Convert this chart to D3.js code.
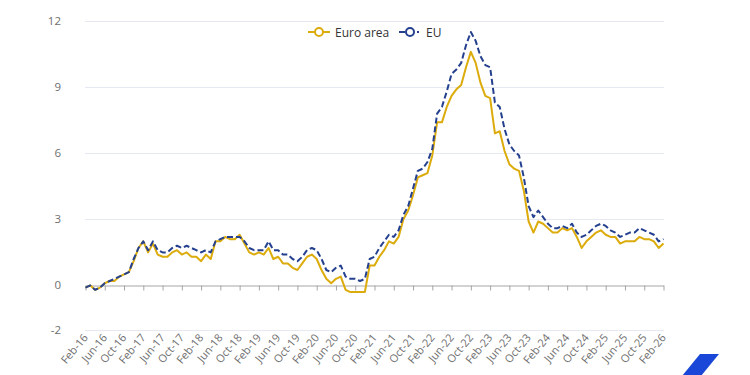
<!DOCTYPE html>
<html lang="en">
<head>
<meta charset="UTF-8">
<title>Euro area vs EU inflation</title>
<script src="https://cdn.jsdelivr.net/npm/d3@7"></script>
<style>
  body { margin: 0; background: #fff; }
  text { font-family: "Open Sans", "Noto Sans", sans-serif; }
</style>
</head>
<body>
<svg id="chart" width="750" height="375"></svg>
<script>
// annual rate of change, Feb-16 .. Feb-26
var euroArea = [
  -0.1, 0.0, -0.2, -0.1, 0.1, 0.2, 0.2, 0.4, 0.5, 0.6, 1.1,
  1.7, 2.0, 1.5, 1.9, 1.4, 1.3, 1.3, 1.5, 1.6, 1.4, 1.5, 1.3,
  1.3, 1.1, 1.4, 1.2, 2.0, 2.0, 2.2, 2.1, 2.1, 2.3, 1.9, 1.5,
  1.4, 1.5, 1.4, 1.7, 1.2, 1.3, 1.0, 1.0, 0.8, 0.7, 1.0, 1.3,
  1.4, 1.2, 0.7, 0.3, 0.1, 0.3, 0.4, -0.2, -0.3, -0.3, -0.3, -0.3,
  0.9, 0.9, 1.3, 1.6, 2.0, 1.9, 2.2, 3.0, 3.4, 4.1, 4.9, 5.0,
  5.1, 5.9, 7.4, 7.4, 8.1, 8.6, 8.9, 9.1, 9.9, 10.6, 10.1, 9.2,
  8.6, 8.5, 6.9, 7.0, 6.1, 5.5, 5.3, 5.2, 4.3, 2.9, 2.4, 2.9,
  2.8, 2.6, 2.4, 2.4, 2.6, 2.5, 2.6, 2.2, 1.7, 2.0, 2.2, 2.4,
  2.5, 2.3, 2.2, 2.2, 1.9, 2.0, 2.0, 2.0, 2.2, 2.1, 2.1, 2.0,
  1.7, 1.9
];
var eu = [
  -0.1, 0.0, -0.2, -0.1, 0.1, 0.2, 0.3, 0.4, 0.5, 0.6, 1.2,
  1.7, 2.0, 1.6, 2.0, 1.6, 1.5, 1.5, 1.7, 1.8, 1.7, 1.8, 1.7,
  1.6, 1.5, 1.6, 1.5, 2.0, 2.1, 2.2, 2.2, 2.2, 2.2, 2.0, 1.7,
  1.6, 1.6, 1.6, 2.0, 1.6, 1.6, 1.4, 1.4, 1.2, 1.1, 1.3, 1.6,
  1.7, 1.6, 1.2, 0.7, 0.6, 0.8, 0.9, 0.4, 0.3, 0.3, 0.2, 0.3,
  1.2, 1.3, 1.7, 2.0, 2.3, 2.2, 2.5, 3.2, 3.6, 4.4, 5.2, 5.3,
  5.6, 6.2, 7.8, 8.1, 8.8, 9.6, 9.8, 10.1, 10.9, 11.5, 11.1, 10.4,
  10.0, 9.9, 8.3, 8.1, 7.1, 6.4, 6.1, 5.9, 4.9, 3.6, 3.1, 3.4,
  3.1, 2.8, 2.6, 2.6, 2.7, 2.6, 2.8, 2.4, 2.2, 2.3, 2.5, 2.7,
  2.8, 2.7, 2.5, 2.4, 2.2, 2.3, 2.4, 2.4, 2.6, 2.5, 2.4, 2.3,
  2.0, 2.1
];
var yTicks = [-2, 0, 3, 6, 9, 12];
var seriesNames = ["Euro area", "EU"];
var seriesColors = ["#dcab0c", "#24408e"];

var months = d3.timeMonth.range(new Date(2016, 1, 1), new Date(2026, 2, 1)).map(d3.timeFormat("%b-%y"));
var xTicks = months.filter(function (d, i) { return i % 4 == 0; });

var svg = d3.select("#chart");

var x = d3.scalePoint().domain(months).range([85.5, 663.5]);
var y = d3.scaleLinear().domain([-2, 12]).range([329.5, 21]);

// grid lines
svg.append("g")
  .selectAll("line")
  .data(yTicks.filter(function (d) { return d != 0; }))
  .enter().append("line")
    .attr("x1", 85).attr("x2", 664)
    .attr("y1", function (d) { return Math.round(y(d)) + 0.5; })
    .attr("y2", function (d) { return Math.round(y(d)) + 0.5; })
    .attr("stroke", "#e6e9f1")
    .attr("stroke-width", 1);

// y labels
svg.append("g")
  .selectAll("text")
  .data(yTicks)
  .enter().append("text")
    .attr("x", 61)
    .attr("y", function (d) { return y(d) + 4; })
    .attr("text-anchor", "end")
    .attr("font-size", 11.5)
    .attr("fill", "#707070")
    .text(function (d) { return d; });

// x axis on the zero line
var xAxis = svg.append("g")
  .attr("transform", "translate(0," + (Math.round(y(0)) + 0.5) + ")")
  .call(d3.axisBottom(x).tickValues(xTicks).tickSize(5).tickSizeOuter(0).tickFormat(""));
xAxis.select(".domain").attr("stroke", "#a6a6a6");
xAxis.selectAll(".tick line").attr("stroke", "#a6a6a6");

// x labels, rotated
svg.append("g")
  .selectAll("text")
  .data(xTicks)
  .enter().append("text")
    .attr("transform", function (d) { return "translate(" + (x(d) + 3) + ",338) rotate(-50)"; })
    .attr("text-anchor", "end")
    .attr("font-size", 11)
    .attr("fill", "#707070")
    .text(function (d) { return d; });

// lines
var line = d3.line()
  .x(function (d, i) { return x(months[i]); })
  .y(function (d) { return y(d); });

svg.append("path")
  .datum(euroArea)
  .attr("d", line)
  .attr("fill", "none")
  .attr("stroke", seriesColors[0])
  .attr("stroke-width", 2)
  .attr("stroke-linejoin", "round");

svg.append("path")
  .datum(eu)
  .attr("d", line)
  .attr("fill", "none")
  .attr("stroke", seriesColors[1])
  .attr("stroke-width", 2)
  .attr("stroke-dasharray", "6,3")
  .attr("stroke-linejoin", "round");

// legend
var legendX = [308, 399];
var legend = svg.append("g")
  .selectAll("g")
  .data(seriesNames)
  .enter().append("g")
    .attr("transform", function (d, i) { return "translate(" + legendX[i] + ",32)"; });

legend.append("line")
  .attr("x1", 0).attr("x2", 22)
  .attr("stroke", function (d, i) { return seriesColors[i]; })
  .attr("stroke-width", 2)
  .attr("stroke-dasharray", function (d, i) { return i == 1 ? "6,12,2,10" : null; });

legend.append("circle")
  .attr("cx", 11).attr("r", 4)
  .attr("fill", "#fff")
  .attr("stroke", function (d, i) { return seriesColors[i]; })
  .attr("stroke-width", 2);

legend.append("text")
  .attr("x", 27)
  .attr("y", 4.5)
  .attr("font-size", 12)
  .attr("fill", "#333")
  .text(function (d) { return d; });

// corner mark
svg.append("path")
  .attr("d", "M700,354L719,354L701,376L682,376Z")
  .attr("fill", "#1a47d8");
</script>
</body>
</html>
